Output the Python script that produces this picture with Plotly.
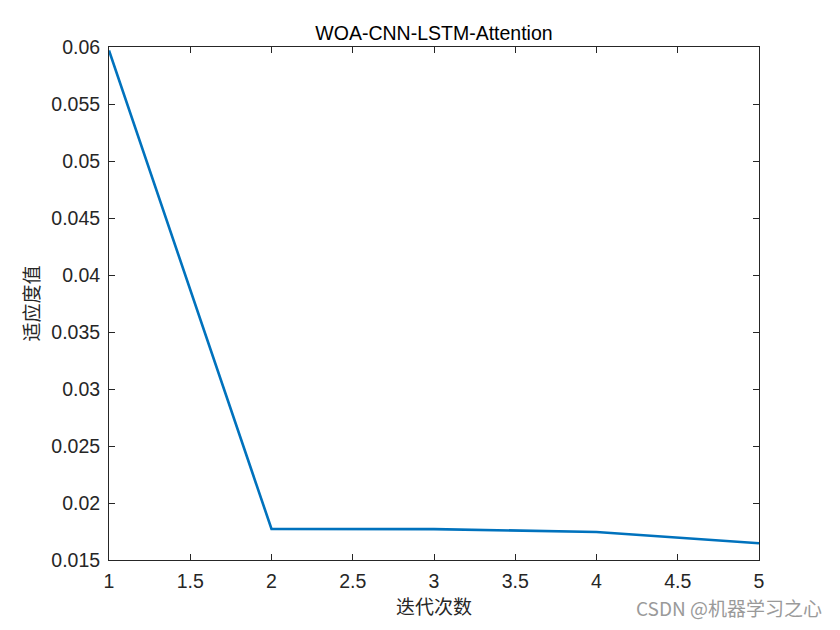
import plotly.graph_objects as go

iterations = [1, 2, 3, 4, 5]
fitness = [0.0597, 0.01772, 0.01771, 0.01746, 0.01647]
x_ticks = [1, 1.5, 2, 2.5, 3, 3.5, 4, 4.5, 5]
x_labels = ["1", "1.5", "2", "2.5", "3", "3.5", "4", "4.5", "5"]
y_ticks = [0.015, 0.02, 0.025, 0.03, 0.035, 0.04, 0.045, 0.05, 0.055, 0.06]
y_labels = ["0.015", "0.02", "0.025", "0.03", "0.035", "0.04", "0.045", "0.05", "0.055", "0.06"]

fig = go.Figure()
fig.add_trace(go.Scatter(x=iterations, y=fitness, mode="lines",
                         line=dict(color="#0072BD", width=2.6), showlegend=False))

axis_common = dict(showline=True, linecolor="#262626", linewidth=1, mirror="ticks",
                   ticks="inside", ticklen=6, tickcolor="#262626", showgrid=False,
                   zeroline=False, ticklabelstandoff=4,
                   tickfont=dict(family="Liberation Sans, Arial", size=19.5, color="#262626"))

fig.update_layout(
    width=840, height=630,
    margin=dict(l=109, r=81, t=47, b=70),
    paper_bgcolor="white", plot_bgcolor="white",
    title=dict(text="WOA-CNN-LSTM-Attention", x=0.5, xanchor="center", xref="paper",
               y=1, yref="paper", yanchor="bottom", pad=dict(b=7),
               font=dict(family="Liberation Sans, Arial", size=19.5, color="#000000")),
    xaxis=dict(range=[1, 5], tickvals=x_ticks, ticktext=x_labels,
               title=dict(text="迭代次数", standoff=4,
                          font=dict(family="Noto Sans CJK SC", size=19, color="#262626")),
               **axis_common),
    yaxis=dict(range=[0.015, 0.06], tickvals=y_ticks, ticktext=y_labels,
               title=dict(text="适应度值", standoff=6,
                          font=dict(family="Noto Sans CJK SC", size=19, color="#262626")),
               **axis_common),
)

fig.add_annotation(text="CSDN @机器学习之心", xref="paper", yref="paper",
                   x=1.1, y=-0.093, xanchor="right", yanchor="middle", showarrow=False,
                   font=dict(family="Noto Sans CJK SC", size=19, color="#9a9a9a"))

fig.write_html("out.html")
